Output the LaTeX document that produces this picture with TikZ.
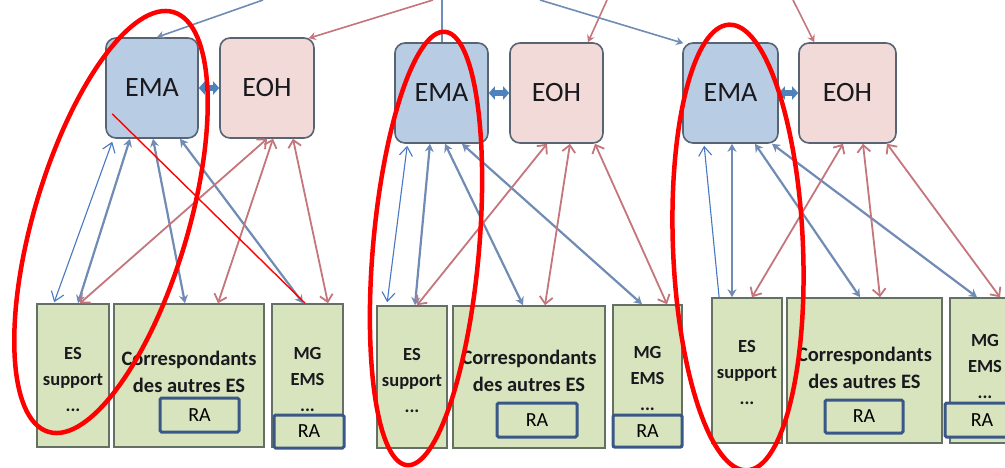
\documentclass[tikz,border=0pt]{standalone}
\usepackage{fontspec}
\setmainfont{Carlito}
\usetikzlibrary{arrows.meta,calc}
\definecolor{emafill}{RGB}{184,204,228}
\definecolor{eohfill}{RGB}{242,218,216}
\definecolor{topline}{RGB}{88,100,116}
\definecolor{esfill}{RGB}{215,228,189}
\definecolor{esline}{RGB}{100,112,100}
\definecolor{raline}{RGB}{58,88,135}
\definecolor{bconnc}{RGB}{112,140,180}
\definecolor{rconnc}{RGB}{196,118,124}
\definecolor{thinblue}{RGB}{70,120,195}
\definecolor{linkblue}{RGB}{79,129,189}
\definecolor{txt}{RGB}{25,25,30}
\begin{document}
\begin{tikzpicture}[x=1pt,y=-1pt,
  emabox/.style={draw=topline, fill=emafill, line width=1.6pt, rounded corners=10pt,
    minimum height=100pt, inner sep=0pt, text=txt, font=\fontsize{28}{30}\selectfont},
  eohbox/.style={emabox, fill=eohfill},
  esbox/.style={draw=esline, fill=esfill, line width=1.6pt, inner sep=0pt},
  boxtext/.style={align=center, text=txt, font=\bfseries\fontsize{18.5}{26}\selectfont, inner sep=0pt},
  cotext/.style={boxtext, font=\bfseries\fontsize{20.5}{27}\selectfont},
  rabox/.style={draw=raline, fill=esfill, line width=3pt, inner sep=0pt, rounded corners=1.5pt,
    text=black, font=\fontsize{20}{22}\selectfont},
  bconn/.style={draw=bconnc, line width=2.2pt, {Stealth[length=8pt,width=9pt]}-{Stealth[length=8pt,width=9pt]}},
  rconn/.style={draw=rconnc, line width=1.8pt, {Straight Barb[length=7pt,width=13pt]}-{Straight Barb[length=7pt,width=13pt]}},
  btop/.style={draw=bconnc, line width=1.6pt},
  rtop/.style={draw=rconnc, line width=1.6pt},
  thinb/.style={draw=thinblue, line width=1.1pt},
  thinboth/.style={thinb, {Straight Barb[length=9pt,width=13pt]}-{Straight Barb[length=9pt,width=13pt]}},
  thinstart/.style={thinb, {Straight Barb[length=9pt,width=13pt]}-},
  link/.style={draw=linkblue, line width=5.5pt, {Triangle[length=6pt,width=13pt]}-{Triangle[length=6pt,width=13pt]}},
  ring/.style={draw={rgb,255:red,255;green,0;blue,0}, line width=4.5pt}
]
\useasboundingbox[fill=white] (0,0) rectangle (1005,467);

% ---------- top boxes ----------
\node[emabox, minimum width=92pt] (ema1) at (152,88) {EMA};
\node[eohbox, minimum width=94pt] (eoh1) at (267,88) {EOH};
\node[emabox, minimum width=93pt] (ema2) at (441.5,93) {EMA};
\node[eohbox, minimum width=93pt] (eoh2) at (556.5,93) {EOH};
\node[emabox, minimum width=95pt] (ema3) at (730.5,93) {EMA};
\node[eohbox, minimum width=97pt] (eoh3) at (847.5,93) {EOH};

% ---------- bottom boxes ----------
\node[esbox, minimum width=72pt, minimum height=143pt] (es1) at (73,375.5) {};
\node[esbox, minimum width=150pt, minimum height=143pt] (co1) at (189,375.5) {};
\node[esbox, minimum width=71pt, minimum height=143pt] (mg1) at (307.5,375.5) {};
\node[esbox, minimum width=70pt, minimum height=142pt] (es2) at (412,377) {};
\node[esbox, minimum width=152pt, minimum height=142pt] (co2) at (529,377) {};
\node[esbox, minimum width=69pt, minimum height=142pt] (mg2) at (647.5,376) {};
\node[esbox, minimum width=70pt, minimum height=145pt] (es3) at (747,370.5) {};
\node[esbox, minimum width=155pt, minimum height=145pt] (co3) at (864.5,370.5) {};
\node[esbox, minimum width=70pt, minimum height=145pt] (mg3) at (985,370.5) {};

\node[boxtext] (es1t) at ($(es1.center)+(0,4)$) {ES\\support\\...};
\node[cotext] (co1t) at ($(co1.center)+(0,-4)$) {Correspondants\\des autres ES};
\node[boxtext] (mg1t) at ($(mg1.center)+(0,4)$) {MG\\EMS\\...};
\node[boxtext] (es2t) at ($(es2.center)+(0,3)$) {ES\\support\\...};
\node[cotext] (co2t) at ($(co2.center)+(0,-6)$) {Correspondants\\des autres ES};
\node[boxtext] (mg2t) at ($(mg2.center)+(0,2)$) {MG\\EMS\\...};
\node[boxtext] (es3t) at ($(es3.center)+(0,2)$) {ES\\support\\...};
\node[cotext] (co3t) at ($(co3.center)+(0,-3)$) {Correspondants\\des autres ES};
\node[boxtext] (mg3t) at ($(mg3.center)+(0,-4)$) {MG\\EMS\\...};

% ---------- links EMA <-> EOH ----------
\draw[link] (ema1.east) -- (eoh1.west);
\draw[link] (ema2.east) -- (eoh2.west);
\draw[link] (ema3.east) -- (eoh3.west);

% ---------- incoming lines from above ----------
\coordinate (t1) at (263,0);
\coordinate (t2) at (433,0);
\coordinate (t3) at (442,0);
\coordinate (t4) at (607,0);
\coordinate (t5) at (540,0);
\coordinate (t6) at (793,0);
\draw[btop, -{Stealth[length=7pt,width=8pt]}] (t1) -- ($(ema1.north)+(5,0)$);
\draw[rtop, -{Stealth[length=7pt,width=8pt]}] (t2) -- ($(eoh1.north east)+(-6,1)$);
\draw[btop] (t3) -- ($(ema2.north)+(0.5,0)$);
\draw[rtop, -{Stealth[length=7pt,width=8pt]}] (t4) -- ($(eoh2.north)+(31.5,0)$);
\draw[btop, -{Stealth[length=7pt,width=8pt]}] (t5) -- ($(ema3.north west)+(1,1)$);
\draw[rtop, -{Stealth[length=7pt,width=8pt]}] (t6) -- ($(eoh3.north west)+(16,0)$);

% ---------- group 1 connectors ----------
\draw[bconn] ($(ema1.south)+(-22,0)$) -- ($(es1.north)+(5,0)$);
\draw[bconn] ($(ema1.south)+(1,0)$) -- ($(co1.north)+(-4,0)$);
\draw[bconn] ($(ema1.south)+(28,0)$) -- ($(mg1.north)+(-4.5,0)$);
\draw[rconn] ($(eoh1.south)+(0,0)$) -- ($(es1.north)+(7,0)$);
\draw[rconn] ($(eoh1.south)+(6,0)$) -- ($(co1.north)+(29,0)$);
\draw[rconn] ($(eoh1.south)+(26,0)$) -- ($(mg1.north)+(20.5,0)$);

% ---------- group 2 connectors ----------
\draw[bconn] ($(ema2.south)+(-11.5,0)$) -- ($(es2.north)+(3,0)$);
\draw[bconn] ($(ema2.south)+(3.5,0)$) -- ($(co2.north)+(-6,0)$);
\draw[bconn] ($(ema2.south)+(20.5,0)$) -- ($(mg2.north)+(-5.5,0)$);
\draw[rconn] ($(eoh2.south)+(-9.5,0)$) -- ($(es2.north)+(5,0)$);
\draw[rconn] ($(eoh2.south)+(13.5,0)$) -- ($(co2.north)+(16,0)$);
\draw[rconn] ($(eoh2.south)+(38.5,0)$) -- ($(mg2.north)+(19.5,0)$);

% ---------- group 3 connectors ----------
\draw[bconn] ($(ema3.south)+(1.5,0)$) -- ($(es3.north)+(-15,0)$);
\draw[bconn] ($(ema3.south)+(24.5,0)$) -- ($(co3.north)+(-4.5,0)$);
\draw[bconn] ($(ema3.south)+(41.5,0)$) -- ($(mg3.north)+(-8,0)$);
\draw[rconn] ($(eoh3.south)+(-4.5,0)$) -- ($(es3.north)+(5,0)$);
\draw[rconn] ($(eoh3.south)+(15.5,0)$) -- ($(co3.north)+(15.5,0)$);
\draw[rconn] ($(eoh3.south)+(39.5,0)$) -- ($(mg3.north)+(15,0)$);

% ---------- RA boxes ----------
\node[rabox, minimum width=79pt, minimum height=34pt] (ra1a) at (199.5,415) {RA};
\node[rabox, minimum width=70pt, minimum height=33pt] (ra1b) at (309,431.5) {RA};
\node[rabox, minimum width=80pt, minimum height=34pt] (ra2a) at (537,420) {RA};
\node[rabox, minimum width=69pt, minimum height=32pt] (ra2b) at (647.5,431) {RA};
\node[rabox, minimum width=78pt, minimum height=33pt] (ra3a) at (864,416.5) {RA};
\node[rabox, minimum width=74pt, minimum height=34pt] (ra3b) at (982,420) {RA};

% ---------- thin annotation lines ----------
\draw[thinboth] ($(ema1.south west)+(7,3)$) -- ($(es1.north west)+(18,-1)$);
\draw[draw={rgb,255:red,255;green,0;blue,0}, line width=1.4pt] ($(ema1.south west)+(7,-25)$) -- ($(mg1.north)+(-2.5,0)$);
\draw[thinboth] ($(ema2.south west)+(13,2)$) -- ($(es2.north west)+(11,-3)$);
\draw[thinstart] ($(ema3.south west)+(22,2)$) -- ($(es3.north west)+(8,1)$);

% ---------- red rings ----------
\draw[ring, rotate around={73.4:(111,222)}] (111,222) ellipse [x radius=219, y radius=77];
\draw[ring, rotate around={85:(426,248.5)}] (426,248.5) ellipse [x radius=217.5, y radius=53];
\draw[ring, rotate around={92.3:(738,247.5)}] (738,247.5) ellipse [x radius=223, y radius=65];
\end{tikzpicture}
\end{document}
